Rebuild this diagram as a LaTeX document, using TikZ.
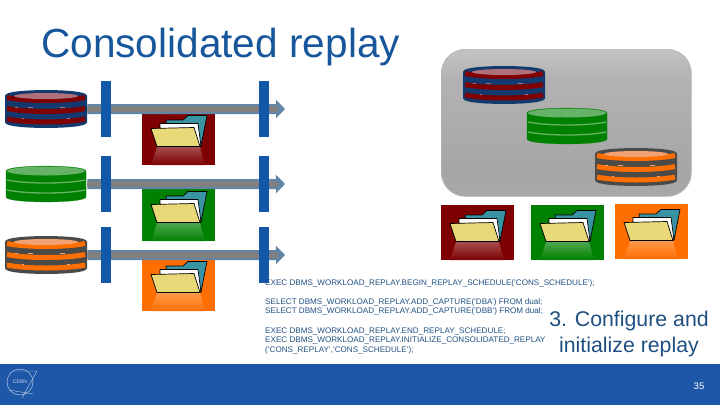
\documentclass[tikz,border=0pt]{standalone}
\usepackage{fontspec}
\setmainfont{Liberation Sans}
\usetikzlibrary{arrows.meta, positioning, calc}

\definecolor{cernblue}{HTML}{1F57A8}
\definecolor{barblue}{HTML}{1257A8}
\definecolor{titleblue}{HTML}{17569B}
\definecolor{sqlblue}{HTML}{1F4F80}
\definecolor{navyrim}{HTML}{123A6E}
\definecolor{darkred}{HTML}{7E0000}
\definecolor{darkgreen}{HTML}{008000}
\definecolor{paleorange}{HTML}{FF6E00}
\definecolor{slaterim}{HTML}{4A4A48}
\definecolor{folderteal}{HTML}{3A93A3}
\definecolor{folderyellow}{HTML}{E8D878}
\definecolor{arrowedge}{HTML}{5F86A8}
\definecolor{lidrose}{HTML}{B0707A}
\definecolor{lidgreen}{HTML}{66B266}
\definecolor{lidorange}{HTML}{F2A272}

\pgfdeclareverticalshading{panelgray}{100bp}{
  color(0bp)=(black!18); color(14bp)=(black!33); color(35bp)=(black!35);
  color(65bp)=(black!30); color(100bp)=(black!8)}

\tikzset{
  flowarrow/.style={arrowedge, line width=10pt, -{Triangle[length=9pt, width=18pt]}},
  flowcore/.style={gray, line width=6pt, shorten >=7pt},
  barnode/.style={fill=barblue, minimum width=10pt, minimum height=56pt, inner sep=0pt},
  tilenode/.style={anchor=north west, minimum width=73pt, minimum height=55pt, inner sep=0pt},
  dbnode/.style={anchor=north west, minimum width=82pt, minimum height=38pt, inner sep=0pt},
  folderline/.style={draw=black, line width=0.7pt, line join=round},
  dbnavy/.style={fill=navyrim, draw=navyrim, line width=2pt},
  dbgreen/.style={fill=darkgreen, draw=darkgreen, line width=0.2pt},
  dbslate/.style={fill=slaterim, draw=slaterim, line width=2pt},
  topnavy/.style={fill=lidrose, x radius=32, y radius=3},
  topgreen/.style={fill=lidgreen, x radius=39, y radius=4.5},
  toporange/.style={fill=lidorange, x radius=32, y radius=3},
  speck/.style={line width=0.6pt},
}

% name, x, y, rim style, stripe colour, lid style, stripe width, stripe offsets
\newcommand{\dbstack}[8]{
  \node[dbnode] (#1) at (#2,#3) {};
  \begin{scope}[shift={(#2+1,#3+1)}]
    \path[#4] (0,5) .. controls (0,-1.6) and (80,-1.6) .. (80,5) -- (80,31)
      .. controls (80,37.6) and (0,37.6) .. (0,31) -- cycle;
    \foreach \oy in {#8}
      \draw[#5, line width=#7] (1,\oy) .. controls (20,\oy+4) and (60,\oy+4) .. (79,\oy);
    \path[#6] (40,5) circle;
  \end{scope}
}

% x, y, colour
\newcommand{\dbspecks}[3]{
  \begin{scope}[shift={(#1,#2)}]
    \draw[speck, #3] (10,17) -- (13,17) (23,17) -- (28,17) (55,17) -- (60,17);
    \draw[speck, #3] (17,28) -- (19,28) (62,28) -- (65,28);
  \end{scope}
}

% name, x, y, tile colour
\newcommand{\foldertile}[4]{
  \node[tilenode, fill=#4] (#1) at (#2,#3) {};
  \begin{scope}[shift={(#2,#3)}]
    \shade[top color=#4!70!white, bottom color=#4] (15,37) -- (58,37) -- (63,55) -- (9,55) -- cycle;
    \path[folderline, fill=folderteal] (24,10) -- (41,10) -- (46,5.5) -- (65,5.5) -- (59,36) -- (26,30) -- cycle;
    \path[folderline, fill=white] (18,18) -- (18,13.5) -- (56,13.5) -- (59,36) -- (50,30) -- cycle;
    \path[folderline, fill=folderyellow] (9,18.5) -- (52,17.5) -- (58,36.5) -- (15,36.5) -- cycle;
  \end{scope}
}

\begin{document}
\begin{tikzpicture}[x=1pt, y=-1pt]
\useasboundingbox (0,0) rectangle (720,405);

\node[anchor=base west, inner sep=0pt, titleblue, font=\fontsize{40.6}{41}\selectfont] (title) at (41,57) {Consolidated replay};

% left column
\dbstack{dba}{5}{90}{dbnavy}{darkred}{topnavy}{5pt}{6.5,17.5,28}
\dbstack{dbb}{5}{165}{dbgreen}{lidgreen}{topgreen}{1.3pt}{14,24}
\dbstack{dbc}{5}{236}{dbslate}{paleorange}{toporange}{5pt}{6.5,17.5,28}
\dbspecks{5}{90}{lidrose}
\dbspecks{5}{236}{lidorange}

\foldertile{tilea}{142}{110}{darkred}
\foldertile{tileb}{142}{186}{darkgreen}
\foldertile{tilec}{142}{256}{paleorange}

\coordinate (enda) at (285,109);
\coordinate (endb) at (285,184);
\coordinate (endc) at (285,255);
\foreach \db/\e in {dba/enda, dbb/endb, dbc/endc} {
  \draw[flowarrow] (\db.east) -- (\e);
  \draw[flowcore] (\db.east) -- (\e);
}

\foreach \nm/\by in {a/109, b/184, c/255} {
  \node[barnode] (barl\nm) at (106,\by) {};
  \node[barnode] (barr\nm) at (264,\by) {};
}

% right panel
\node[anchor=north west, draw=black!28, line width=0.7pt, shading=panelgray, rounded corners=24pt,
  minimum width=250pt, minimum height=147pt, inner sep=0pt] (panel) at (441,49) {};
\dbstack{dbpa}{463}{66}{dbnavy}{darkred}{topnavy}{5pt}{6.5,17.5,28}
\dbstack{dbpb}{526}{107}{dbgreen}{lidgreen}{topgreen}{1.3pt}{14,24}
\dbstack{dbpc}{595}{148}{dbslate}{paleorange}{toporange}{5pt}{6.5,17.5,28}
\dbspecks{463}{66}{lidrose}
\dbspecks{595}{148}{lidorange}

\foldertile{tilepa}{441}{205}{darkred}
\foldertile{tilepb}{531}{205}{darkgreen}
\foldertile{tilepc}{615}{204}{paleorange}

% statements
\node[anchor=north west, inner sep=0pt, sqlblue, align=left, font=\fontsize{8.1}{9.6}\selectfont] (sql) at (265,279) {
EXEC DBMS\_WORKLOAD\_REPLAY.BEGIN\_REPLAY\_SCHEDULE('CONS\_SCHEDULE');\\[9.6pt]
SELECT DBMS\_WORKLOAD\_REPLAY.ADD\_CAPTURE('DBA') FROM dual;\\
SELECT DBMS\_WORKLOAD\_REPLAY.ADD\_CAPTURE('DBB') FROM dual;\\[9.6pt]
EXEC DBMS\_WORKLOAD\_REPLAY.END\_REPLAY\_SCHEDULE;\\
EXEC DBMS\_WORKLOAD\_REPLAY.INITIALIZE\_CONSOLIDATED\_REPLAY\\
('CONS\_REPLAY','CONS\_SCHEDULE');};

\node[sqlblue, align=center, inner sep=0pt, font=\fontsize{21.3}{26}\selectfont] (step) at (629,334) {3. Configure and\\initialize replay};

% footer
\fill[cernblue] (0,364) rectangle (720,405);
\node[white, font=\fontsize{9.5}{10}\selectfont, inner sep=0pt] (page) at (699,386) {35};
\node[circle, draw=white!70!cernblue, line width=0.4pt, minimum size=26pt, inner sep=0pt, white!80!cernblue, font=\fontsize{5}{5}\selectfont] (logo) at (20,382) {CERN};
\draw[white!70!cernblue, line width=0.4pt] (12,371) -- (37,371) -- (22,398);
\draw[white!70!cernblue, line width=0.4pt] (9,390) -- (33,394);
\end{tikzpicture}
\end{document}
